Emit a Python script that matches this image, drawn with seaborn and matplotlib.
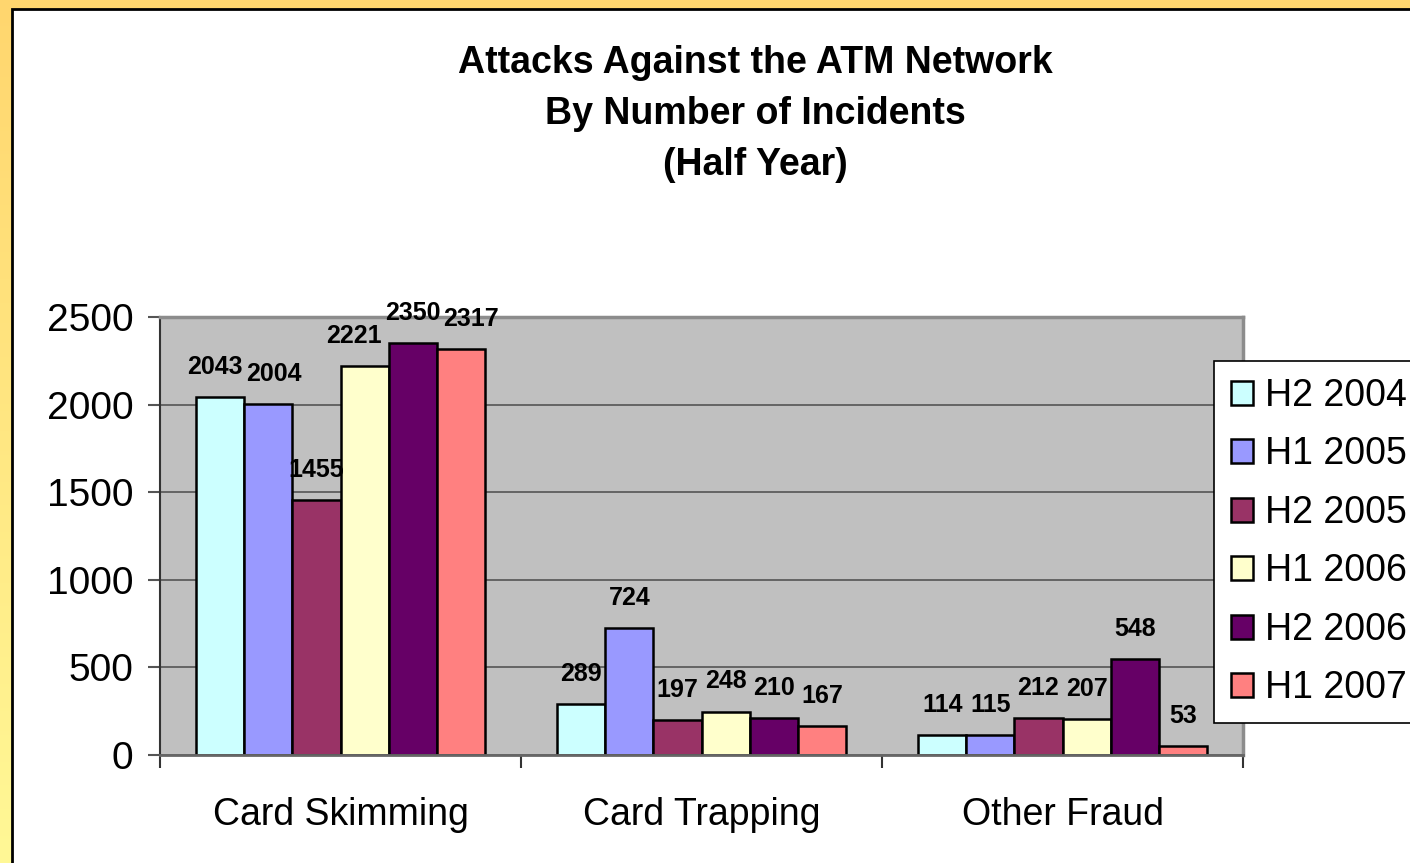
import numpy as np
import pandas as pd
import matplotlib
matplotlib.use('Agg')
import matplotlib.pyplot as plt
from matplotlib.patches import Rectangle
import seaborn as sns

# Dữ liệu
categories = ['Card Skimming', 'Card Trapping', 'Other Fraud']
periods = ['H2 2004', 'H1 2005', 'H2 2005', 'H1 2006', 'H2 2006', 'H1 2007']
h2_2004 = [2043, 289, 114]
h1_2005 = [2004, 724, 115]
h2_2005 = [1455, 197, 212]
h1_2006 = [2221, 248, 207]
h2_2006 = [2350, 210, 548]
h1_2007 = [2317, 167, 53]
colors = ['#CCFFFF', '#9999FF', '#993366', '#FFFFCC', '#660066', '#FF8080']

series = [h2_2004, h1_2005, h2_2005, h1_2006, h2_2006, h1_2007]
rows = []
for p, vals in zip(periods, series):
    for c, v in zip(categories, vals):
        rows.append({'Attack': c, 'Period': p, 'Incidents': v})
df = pd.DataFrame(rows)

sns.set_style('white')
plt.rcParams['font.family'] = ['Liberation Sans', 'DejaVu Sans']
plt.rcParams['text.color'] = 'black'
plt.rcParams['xtick.labelcolor'] = 'black'
plt.rcParams['ytick.labelcolor'] = 'black'

W, H = 1410, 863
fig = plt.figure(figsize=(W / 100, H / 100), dpi=100)

# Nền vàng chuyển màu + khung trắng
bg = fig.add_axes([0, 0, 1, 1], zorder=-10)
grad = np.linspace(0, 1, 256)[:, None]
top_c = np.array([255, 214, 110]) / 255
bot_c = np.array([255, 248, 150]) / 255
img = top_c[None, None, :] * (1 - grad[:, :, None]) + bot_c[None, None, :] * grad[:, :, None]
bg.imshow(img, aspect='auto', extent=[0, 1, 0, 1])
bg.add_patch(Rectangle((12 / W, -0.1), 1.2, 1 - 9 / H + 0.1, facecolor='white',
                       edgecolor='black', linewidth=2))
bg.set_xlim(0, 1)
bg.set_ylim(0, 1)
bg.axis('off')

ax = fig.add_axes([160 / W, 1 - 755 / H, (1243 - 160) / W, (755 - 317) / H])
sns.barplot(data=df, x='Attack', y='Incidents', hue='Period', hue_order=periods,
            order=categories, palette=colors, width=0.8, edgecolor='black',
            linewidth=1.8, saturation=1, ax=ax, legend=True)

ax.set_facecolor('#C0C0C0')
ax.set_ylim(0, 2500)
ax.set_xlim(-0.5, 2.5)
ax.set_yticks(range(0, 2501, 500))
ax.yaxis.grid(True, color='#555555', linewidth=1.2)
ax.set_axisbelow(True)
ax.set_xlabel('')
ax.set_ylabel('')
for s in ['top', 'right']:
    ax.spines[s].set_color('#8c8c8c')
    ax.spines[s].set_linewidth(2.5)
ax.spines['left'].set_color('#333333')
ax.spines['left'].set_linewidth(1.5)
ax.spines['bottom'].set_color('#666666')
ax.spines['bottom'].set_linewidth(2)

ax.tick_params(axis='y', labelsize=28, length=9, width=1.5, color='#555555',
               direction='out', left=True, pad=10)
ax.tick_params(axis='x', which='major', labelsize=27, length=0, pad=30)
ax.set_xticks([-0.5, 0.5, 1.5, 2.5], minor=True)
ax.tick_params(axis='x', which='minor', length=9, width=1.5, color='#333333',
               direction='out', bottom=True)

# Nhãn giá trị
labels = {}
for cont in ax.containers:
    for bar in cont:
        xc = bar.get_x() + bar.get_width() / 2
        hgt = bar.get_height()
        ann = ax.annotate(f'{hgt:.0f}', (xc, hgt), xytext=(0, 13),
                          textcoords='offset points', ha='center', va='bottom',
                          fontsize=18, fontweight='bold', color='black')
        labels.setdefault(int(round(xc)), []).append(ann)

# Đẩy các nhãn chồng lên nhau ra hai bên
fig.canvas.draw()
renderer = fig.canvas.get_renderer()
px2pt = 72 / fig.dpi
for group in labels.values():
    group.sort(key=lambda a: a.xy[0])
    for _ in range(10):
        moved = False
        for a, b in zip(group[:-1], group[1:]):
            ea = a.get_window_extent(renderer)
            eb = b.get_window_extent(renderer)
            vert = min(ea.y1, eb.y1) - max(ea.y0, eb.y0)
            over = ea.x1 - eb.x0 + 3
            if over > 0 and vert > 0:
                dx = over / 2 * px2pt
                a.xyann = (a.xyann[0] - dx, a.xyann[1])
                b.xyann = (b.xyann[0] + dx, b.xyann[1])
                moved = True
        if not moved:
            break

leg = ax.legend(loc='upper left', bbox_to_anchor=(1214 / W, 1 - 361 / H),
                bbox_transform=fig.transFigure, fontsize=27, frameon=True,
                fancybox=False, framealpha=1, edgecolor='black',
                handlelength=0.6, handleheight=0.6, handletextpad=0.3,
                labelspacing=0.6, borderpad=0.45, borderaxespad=0)
leg.get_frame().set_linewidth(1.2)
for h in leg.legend_handles:
    h.set_edgecolor('black')
    h.set_linewidth(1.8)

fig.text(755 / W, 1 - 114 / H,
         'Attacks Against the ATM Network\nBy Number of Incidents\n(Half Year)',
         ha='center', va='center', fontsize=27, fontweight='bold', linespacing=1.54,
         color='black')

fig.savefig('out.png', dpi=100)
